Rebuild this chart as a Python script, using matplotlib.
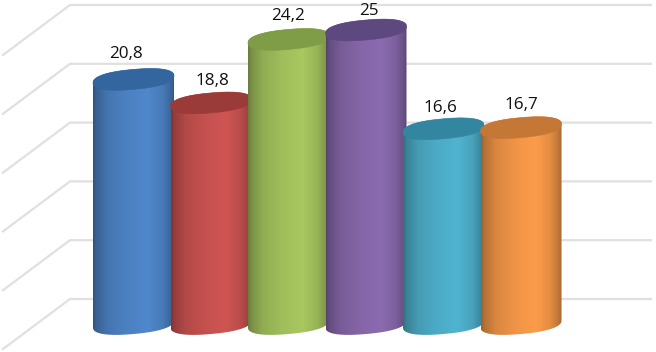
import numpy as np
import matplotlib
matplotlib.use("Agg")
import matplotlib.pyplot as plt
from matplotlib.path import Path
from matplotlib.colors import to_rgb

# --- data ---
labels = ["20,8", "18,8", "24,2", "25", "16,6", "16,7"]
values = [20.8, 18.8, 24.2, 25, 16.6, 16.7]
grid_values = [0, 5, 10, 15, 20, 25]

# --- styles ---
body_colors = ["#5088cc", "#cf5553", "#a8c860", "#8b6bb0", "#50b4d0", "#fc9c4a"]
top_colors = ["#33659f", "#9a3b3a", "#7f9c46", "#5e4880", "#33869f", "#c57735"]
grid_color = "#e0e0e0"

W, H = 656, 352
PX_PER_UNIT = 11.76      # vertical pixels per value unit
PX_PER_CAT = 77.5        # horizontal pixels per category
X0_PX, BASE_PX = 133.5, 324.0
DEPTH = 25 / PX_PER_UNIT  # wall is raised by the chart depth
A = 40.5 / PX_PER_CAT    # cylinder half width
B = 10 / PX_PER_UNIT     # ellipse half height
K = 3.5 / PX_PER_UNIT / A  # ellipse tilt
ROUND = 0.85             # <1 gives the fuller ellipse ends of the 3D render

fig = plt.figure(figsize=(W / 100, H / 100), dpi=100, facecolor="white")
ax = fig.add_axes([0, 0, 1, 1])
xlim = (-X0_PX / PX_PER_CAT, (W - X0_PX) / PX_PER_CAT)
ylim = ((BASE_PX - H) / PX_PER_UNIT, BASE_PX / PX_PER_UNIT)
ax.axis("off")

# perspective floor/wall gridlines
wall_left = (70 - X0_PX) / PX_PER_CAT
wall_right = (651 - X0_PX) / PX_PER_CAT
side_left = (3 - X0_PX) / PX_PER_CAT
side_drop = 50 / PX_PER_UNIT
for g in grid_values:
    y = g + DEPTH
    ax.plot([side_left, wall_left, wall_right], [y - side_drop, y, y],
            color=grid_color, lw=1.6, solid_joinstyle="miter", zorder=1)

stops = [0, .04, .18, .42, .68, .86, .96, 1]
shade = [.62, .72, .86, .95, 1.0, .90, .76, .66]
xs = np.linspace(0, 1, 128)
fact = np.interp(xs, stops, shade)


def arc(cx, cy, t):
    c, s = np.cos(t), np.sin(t)
    dx = A * np.sign(c) * np.abs(c) ** ROUND
    return cx + dx, cy + B * np.sign(s) * np.abs(s) ** ROUND + K * dx


for i, (v, bc, tc) in enumerate(zip(values, body_colors, top_colors)):
    z = 2 + i
    bx, by = arc(i, 0, np.linspace(np.pi, 2 * np.pi, 60))
    tx, ty = arc(i, v, np.linspace(0, np.pi, 60))
    verts = np.column_stack([np.r_[bx, tx, bx[0]], np.r_[by, ty, by[0]]])
    codes = [Path.MOVETO] + [Path.LINETO] * (len(verts) - 2) + [Path.CLOSEPOLY]
    body_path = Path(verts, codes)
    grad = np.clip(np.outer(fact, to_rgb(bc))[None, :, :], 0, 1)
    im = ax.imshow(grad, extent=(i - A, i + A, -2, v + 2), aspect="auto",
                   interpolation="bilinear", zorder=z)
    im.set_clip_path(body_path, transform=ax.transData)
    ex, ey = arc(i, v, np.linspace(0, 2 * np.pi, 120))
    ax.fill(ex, ey, color=tc, lw=0.4, zorder=z + 0.5)

# per-label pixel nudges
label_dx = [-8, 1, -1, 3, -3, 0]
label_dy = [25, 22, 23, 19, 21, 22.5]
for i, (v, s) in enumerate(zip(values, labels)):
    ax.annotate(s, (i, v), xytext=(label_dx[i] * 0.72, label_dy[i] * 0.72),
                textcoords="offset points", ha="center", va="center",
                fontsize=12.3, family="Open Sans", color="#111111", zorder=20)

ax.set_xlim(xlim)
ax.set_ylim(ylim)
fig.savefig("out.png", dpi=100, facecolor="white")
